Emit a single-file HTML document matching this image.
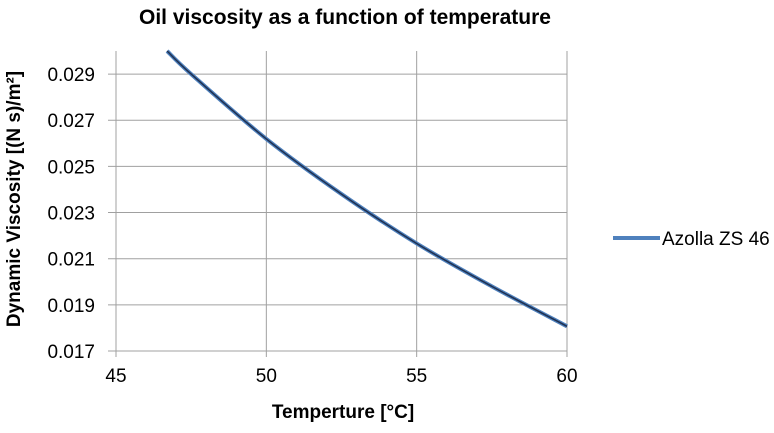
<!DOCTYPE html>
<html><head><meta charset="utf-8"><style>
body{margin:0;background:#fff;}
svg text{font-family:"Liberation Sans",sans-serif;fill:#000;}
</style></head><body>
<svg width="774" height="428">
<text x="345" y="24" text-anchor="middle" font-size="21" font-weight="bold">Oil viscosity as a function of temperature</text>
<g id="grid"></g>
<g id="axes"></g>
<g id="series"></g>
<text transform="translate(20,199) rotate(-90)" text-anchor="middle" font-size="19" font-weight="bold">Dynamic Viscosity [(N s)/m²]</text>
<text x="343" y="418" text-anchor="middle" font-size="19" font-weight="bold">Temperture [°C]</text>
<g>
<line x1="613" y1="238" x2="660" y2="238" stroke="#4f81bd" stroke-width="4"/>
<text x="662" y="245" font-size="19">Azolla ZS 46</text>
</g>
</svg>
<script>
const xTicks=[45,50,55,60];
const yTicks=[0.017,0.019,0.021,0.023,0.025,0.027,0.029];
const temps=[46.7,47.5,50,52.5,55,57.5,60];
const visc=[0.0300,0.0290,0.02619,0.0238,0.02166,0.0198,0.01807];
const X0=116,X1=567,Y0=351,Y1=51;
const xMin=45,xMax=60,yMin=0.017,yMax=0.030;
function sx(v){return X0+(v-xMin)/(xMax-xMin)*(X1-X0);}
function sy(v){return Y0-(v-yMin)/(yMax-yMin)*(Y0-Y1);}
const NS="http://www.w3.org/2000/svg";
const grid=document.getElementById('grid'),axes=document.getElementById('axes'),ser=document.getElementById('series');
function mk(tag,attrs,parent){const e=document.createElementNS(NS,tag);for(const k in attrs)e.setAttribute(k,attrs[k]);parent.appendChild(e);return e;}
xTicks.forEach(t=>{
  const x=sx(t);
  const l=mk('line',{x1:x,y1:Y1,x2:x,y2:Y0+6,stroke:'#a0a0a0','stroke-width':1},grid);
  
  
  const tx=mk('text',{x:x,y:Y0+31,'text-anchor':'middle','font-size':19},axes);
  tx.textContent=t;
  
  
});
yTicks.forEach(t=>{
  const y=sy(t);
  const l=mk('line',{x1:X0-8,y1:y,x2:X1,y2:y,stroke:'#a0a0a0','stroke-width':1},grid);
  
  
  const tx=mk('text',{x:X0-21,y:y+7,'text-anchor':'end','font-size':19},axes);
  tx.textContent=t.toFixed(3);
  
  
});
const pts=temps.map((t,i)=>[sx(t),sy(visc[i])]);
let d='M'+pts[0][0]+','+pts[0][1];
for(let i=0;i<pts.length-1;i++){
  const p0=pts[i-1]||pts[i],p1=pts[i],p2=pts[i+1],p3=pts[i+2]||p2;
  const c1=[p1[0]+(p2[0]-p0[0])/6,p1[1]+(p2[1]-p0[1])/6];
  const c2=[p2[0]-(p3[0]-p1[0])/6,p2[1]-(p3[1]-p1[1])/6];
  d+=' C'+c1+' '+c2+' '+p2;
}
const a=mk('path',{d:d,fill:'none',stroke:'#4f81bd','stroke-width':4},ser);


const b=mk('path',{d:d,fill:'none',stroke:'#1f3050','stroke-width':1.5},ser);


</script>
</body></html>
